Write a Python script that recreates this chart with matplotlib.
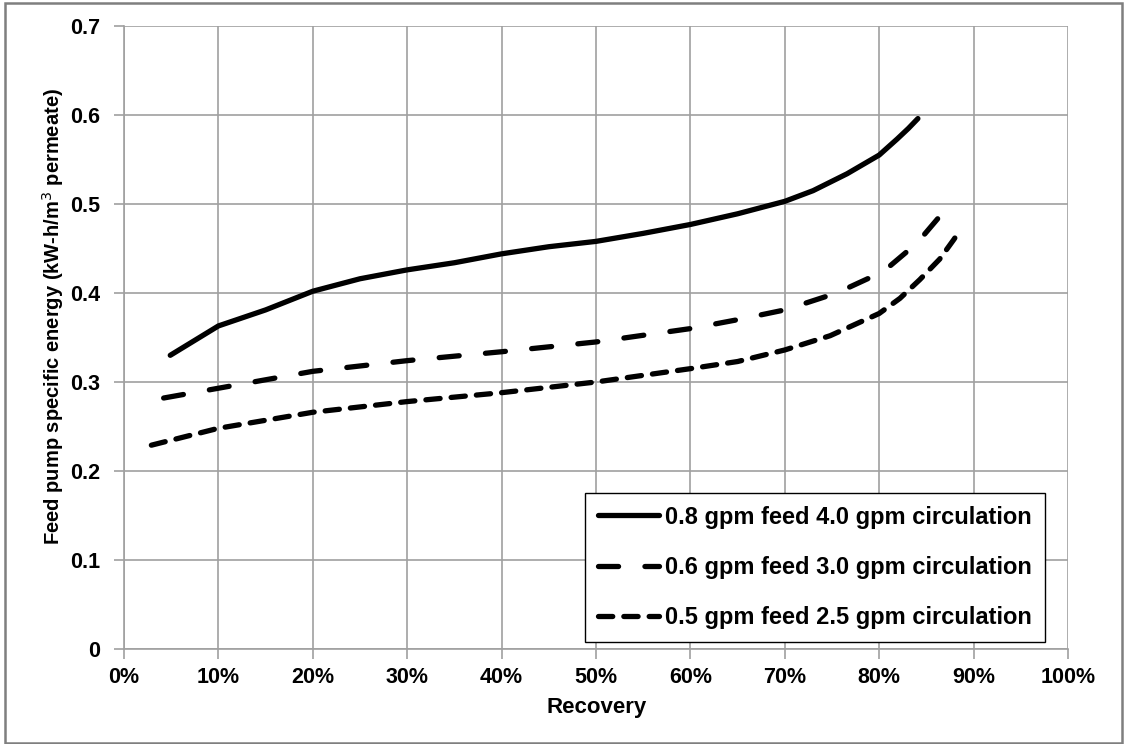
import matplotlib.pyplot as plt
import numpy as np
from matplotlib.patches import Rectangle
from matplotlib.ticker import FuncFormatter

plt.rcParams['font.family'] = ['Liberation Sans', 'DejaVu Sans']

# Recovery (fraction) and feed pump specific energy (kW-h/m3 permeate)
rec_08 = [0.049, 0.10, 0.15, 0.20, 0.25, 0.30, 0.35, 0.40, 0.45, 0.50, 0.55, 0.60,
          0.65, 0.70, 0.73, 0.766, 0.80, 0.819, 0.831, 0.841]
e_08 = [0.330, 0.363, 0.381, 0.402, 0.416, 0.426, 0.434, 0.444, 0.452, 0.458, 0.467,
        0.477, 0.489, 0.503, 0.515, 0.534, 0.555, 0.573, 0.585, 0.596]

rec_06 = [0.042, 0.10, 0.20, 0.30, 0.40, 0.50, 0.60, 0.65, 0.70, 0.755, 0.80, 0.811,
          0.84, 0.868, 0.874]
e_06 = [0.282, 0.293, 0.312, 0.324, 0.334, 0.345, 0.360, 0.370, 0.381, 0.400, 0.422,
        0.430, 0.456, 0.491, 0.504]

rec_05 = [0.029, 0.10, 0.20, 0.30, 0.40, 0.50, 0.60, 0.65, 0.70, 0.748, 0.80, 0.822,
          0.843, 0.864, 0.879, 0.886]
e_05 = [0.229, 0.248, 0.266, 0.278, 0.288, 0.300, 0.315, 0.323, 0.336, 0.352, 0.377,
        0.394, 0.415, 0.438, 0.460, 0.471]

labels = ['0.8 gpm feed 4.0 gpm circulation',
          '0.6 gpm feed 3.0 gpm circulation',
          '0.5 gpm feed 2.5 gpm circulation']

W, H = 1126, 744
fig = plt.figure(figsize=(W / 100, H / 100), dpi=100)
fig.patches.append(Rectangle((5 / W, 1 / H), 1117 / W, 740 / H, transform=fig.transFigure,
                             fill=False, edgecolor='#7f7f7f', linewidth=1.8))

ax = fig.add_axes([124 / W, (H - 649) / H, 944 / W, 623 / H])

lw = 3.8
ax.plot(rec_08, e_08, color='black', linewidth=lw, solid_capstyle='round', label=labels[0])
l2, = ax.plot(rec_06, e_06, color='black', linewidth=lw, dash_capstyle='round', label=labels[1])
l2.set_dashes([3.8, 5.0])
l3, = ax.plot(rec_05, e_05, color='black', linewidth=lw, dash_capstyle='round', label=labels[2])
l3.set_dashes([2.7, 2.1])

ax.set_xlim(0, 1)
ax.set_ylim(0, 0.7)
ax.set_xticks(np.arange(0, 1.01, 0.1))
ax.set_yticks(np.arange(0, 0.71, 0.1))
ax.xaxis.set_major_formatter(FuncFormatter(lambda v, p: f'{v * 100:.0f}%'))
ax.yaxis.set_major_formatter(FuncFormatter(lambda v, p: '0' if v == 0 else f'{v:.1f}'))

grid_c = '#a0a0a0'
ax.grid(True, color=grid_c, linewidth=1.2)
ax.set_axisbelow(True)
for s in ['top', 'right']:
    ax.spines[s].set_visible(False)
for s in ['left', 'bottom']:
    ax.spines[s].set_color(grid_c)
    ax.spines[s].set_linewidth(1.2)
ax.tick_params(axis='both', length=7, width=1.2, color=grid_c, labelsize=15.5)
ax.tick_params(axis='x', pad=6)
ax.tick_params(axis='y', pad=10)
for t in ax.get_xticklabels() + ax.get_yticklabels():
    t.set_fontweight('bold')

fig.text(597 / W, (H - 708) / H, 'Recovery', fontsize=16, fontweight='bold',
         ha='center', va='center')
fig.text(53 / W, (H - 317) / H, 'Feed pump specific energy (kW-h/m$^3$ permeate)',
         fontsize=14.5, fontweight='bold', rotation=90, ha='center', va='center')

leg = ax.legend(loc='lower right', bbox_to_anchor=(0.9754, 0.0112), borderaxespad=0,
                prop={'size': 17, 'weight': 'bold'}, handlelength=2.6, handletextpad=0.25,
                labelspacing=1.15, borderpad=0.55, fancybox=False, framealpha=1)
leg.get_frame().set_edgecolor('black')
leg.get_frame().set_linewidth(1.0)

fig.savefig('out.png', dpi=100)
